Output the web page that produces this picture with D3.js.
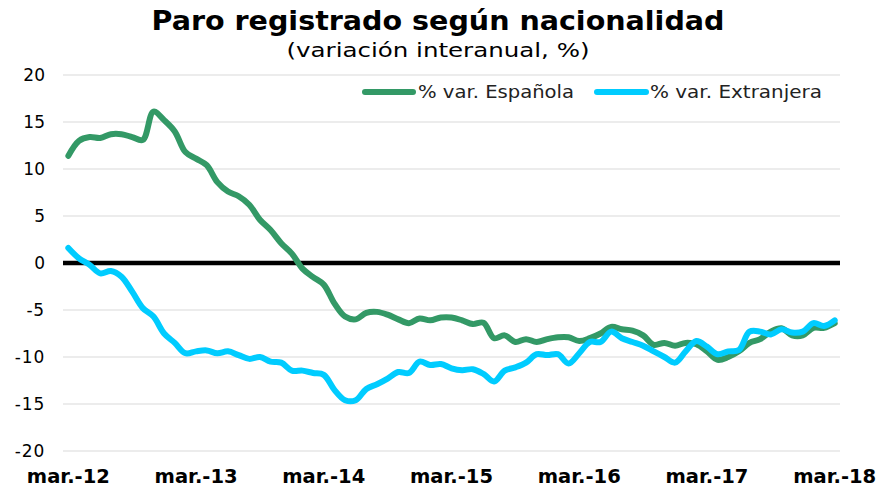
<!DOCTYPE html>
<html><head><meta charset="utf-8">
<script src="https://cdn.jsdelivr.net/npm/d3@7"></script>
<style>body{margin:0;background:#fff}svg{display:block}</style>
</head><body><svg id="c" width="880" height="488"></svg>
<script>
const months = [];
const mnames = ["mar.","abr.","may.","jun.","jul.","ago.","sep.","oct.","nov.","dic.","ene.","feb."];
for (let i = 0; i < 73; i++) {
  const y = 12 + Math.floor((i + 2) / 12);
  months.push(mnames[i % 12] + "-" + y);
}
const espanola = [11.4,13.0,13.4,13.3,13.7,13.7,13.4,13.1,16.1,15.2,14.0,11.8,11.1,10.4,8.6,7.6,7.1,6.2,4.6,3.5,2.1,1.0,-0.6,-1.5,-2.3,-4.3,-5.7,-6.0,-5.3,-5.2,-5.5,-6.0,-6.4,-5.9,-6.1,-5.8,-5.8,-6.1,-6.5,-6.35,-8.0,-7.7,-8.4,-8.1,-8.4,-8.1,-7.9,-7.9,-8.3,-8.0,-7.5,-6.8,-7.05,-7.2,-7.7,-8.7,-8.5,-8.8,-8.5,-8.65,-9.4,-10.3,-10.0,-9.4,-8.5,-8.1,-7.3,-6.95,-7.7,-7.7,-6.9,-6.9,-6.4];
const extranjera = [1.6,0.5,-0.2,-1.1,-0.85,-1.45,-3.05,-4.8,-5.7,-7.5,-8.5,-9.6,-9.4,-9.3,-9.6,-9.4,-9.8,-10.2,-10.0,-10.5,-10.6,-11.45,-11.45,-11.7,-11.9,-13.5,-14.6,-14.6,-13.4,-12.9,-12.3,-11.6,-11.7,-10.5,-10.85,-10.75,-11.2,-11.4,-11.3,-11.8,-12.6,-11.45,-11.1,-10.6,-9.7,-9.8,-9.7,-10.7,-9.6,-8.4,-8.4,-7.3,-8.0,-8.4,-8.8,-9.4,-10.0,-10.6,-9.4,-8.3,-8.9,-9.7,-9.4,-9.25,-7.3,-7.3,-7.6,-7.05,-7.4,-7.3,-6.4,-6.7,-6.1];
const yTicks = [-20,-15,-10,-5,0,5,10,15,20];
const xLabels = ["mar.-12","mar.-13","mar.-14","mar.-15","mar.-16","mar.-17","mar.-18"];
const seriesNames = ["% var. Española","% var. Extranjera"];
const colors = ["#339966","#00ccff"];

const svg = d3.select("#c");
const L = 63, R = 840, T = 75, B = 451;
const x = d3.scalePoint().domain(months).range([L, R]).padding(0.5);
const y = d3.scaleLinear().domain([-20, 20]).range([B, T]);
const font = "'DejaVu Sans', Verdana, sans-serif";

svg.append("g").selectAll("line").data(yTicks.filter(d => d !== 0)).join("line")
  .attr("x1", L).attr("x2", R).attr("y1", d => y(d)).attr("y2", d => y(d))
  .attr("stroke", "#d9d9d9").attr("stroke-width", 1);

svg.append("g").selectAll("text").data(yTicks).join("text")
  .attr("x", 45).attr("y", d => y(d) + 6).attr("text-anchor", "end")
  .attr("font-family", font).attr("font-size", 17).attr("fill", "#000")
  .text(d => d < 0 ? "-" + Math.abs(d) : d)
  .attr("letter-spacing", d => d < 0 ? 0.8 : 0);

svg.append("g").selectAll("text").data(xLabels).join("text")
  .attr("x", d => x(d)).attr("y", 483).attr("text-anchor", "middle")
  .attr("font-family", font).attr("font-weight", "bold").attr("font-size", 19).attr("fill", "#000")
  .attr("textLength", 83).attr("lengthAdjust", "spacingAndGlyphs").text(d => d);

svg.append("line").attr("x1", L).attr("x2", R).attr("y1", y(0)).attr("y2", y(0))
  .attr("stroke", "#000").attr("stroke-width", 4.5);

const line = d3.line().x((d, i) => x(months[i])).y(d => y(d)).curve(d3.curveCatmullRom.alpha(0.5));
[espanola, extranjera].forEach((s, k) => {
  svg.append("path").attr("d", line(s)).attr("fill", "none")
    .attr("stroke", colors[k]).attr("stroke-width", 6).attr("stroke-linejoin", "round").attr("stroke-linecap", "round");
});

const lg = [{x1: 365, x2: 413, tx: 418, w: 156}, {x1: 597, x2: 646, tx: 650, w: 172}];
lg.forEach((p, k) => {
  svg.append("line").attr("x1", p.x1).attr("x2", p.x2).attr("y1", 92).attr("y2", 92)
    .attr("stroke", colors[k]).attr("stroke-width", 6).attr("stroke-linecap", "round");
  svg.append("text").attr("x", p.tx).attr("y", 98).attr("font-family", font).attr("font-size", 17)
    .attr("textLength", p.w).attr("lengthAdjust", "spacingAndGlyphs")
    .attr("fill", "#222").text(seriesNames[k]);
});

svg.append("text").attr("x", 438).attr("y", 30).attr("text-anchor", "middle")
  .attr("font-family", font).attr("font-weight", "bold").attr("font-size", 26).attr("fill", "#000")
  .attr("textLength", 573).attr("lengthAdjust", "spacingAndGlyphs")
  .text("Paro registrado según nacionalidad");
svg.append("text").attr("x", 438).attr("y", 57).attr("text-anchor", "middle")
  .attr("font-family", font).attr("font-size", 20).attr("fill", "#000")
  .attr("textLength", 303).attr("lengthAdjust", "spacingAndGlyphs")
  .text("(variación interanual, %)");
</script></body></html>
